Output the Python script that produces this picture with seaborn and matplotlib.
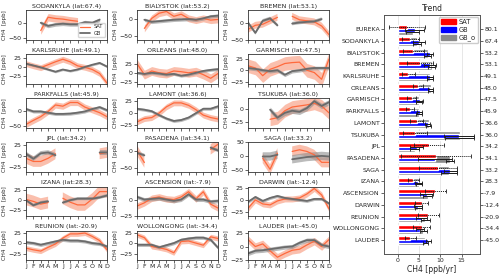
import numpy as np
import matplotlib
matplotlib.use("Agg")
import matplotlib.pyplot as plt
import seaborn as sns
from matplotlib.patches import Patch

sns.set_theme(style="ticks")
plt.rcParams["font.family"] = ["DejaVu Sans"]

nan = np.nan

# seasonal cycle panels
panel_names = ["SODANKYLA", "BIALYSTOK", "BREMEN", "KARLSRUHE", "ORLEANS", "GARMISCH",
               "PARKFALLS", "LAMONT", "TSUKUBA", "JPL", "PASADENA", "SAGA",
               "IZANA", "ASCENSION", "DARWIN", "REUNION", "WOLLONGONG", "LAUDER"]
panel_lats = [67.4, 53.2, 53.1, 49.1, 48.0, 47.5, 45.9, 36.6, 36.0, 34.2, 34.1, 33.2,
              28.3, -7.9, -12.4, -20.9, -34.4, -45.0]

sat_cycle = [
    [nan, nan, -25, 18, 14, 12, 8, 5, nan, nan, nan, nan],
    [nan, -27, 2, 17, 22, 8, 14, 2, -3, 2, -3, -1],
    [-20, -8, -5, 5, 15, nan, 18, 8, 5, 2, -10, -35],
    [10, 4, -1, 7, 15, 22, 15, 4, 0, -6, -17, -43],
    [25, -5, 5, 0, -2, 5, 3, 0, 3, -5, -15, -2],
    [10, 5, -12, 2, 8, 15, 17, 18, 0, -5, -20, 25],
    [-44, -31, -19, -2, 19, 15, 27, 27, 12, 3, -6, -19],
    [-18, -11, -9, 0, 13, 21, 21, 16, 7, -4, -9, -12],
    [nan, nan, nan, -19, -16, -3, 4, 6, 8, 11, 6, -7],
    [-5, -12, -12, -5, 5, nan, nan, nan, nan, nan, 5, 8],
    [2, -33, nan, nan, nan, nan, nan, nan, nan, nan, 5, 20],
    [nan, nan, -6, -46, 12, nan, 18, 24, 18, 6, -21, -21],
    [2, -3, -10, -6, nan, 5, -5, -12, -12, 3, 22, 22],
    [-10, -5, 2, 4, 1, 0, 4, 12, 1, 12, -7, -13],
    [-17, 0, -8, -10, -2, 2, 2, 4, 12, 23, 10, -18],
    [-12, -16, -19, -10, -2, 12, 22, 22, 24, 16, 6, -16],
    [20, 13, -8, -11, -15, -23, 4, 5, 0, -5, 15, 11],
    [13, 0, 5, -8, -20, -13, -7, -5, 3, 10, 0, 13],
]
gb_cycle = [
    [nan, nan, 0, -10, -5, -3, -5, -5, 2, 0, 10, nan],
    [nan, -2, -8, -6, -4, -2, -1, 0, -2, 2, 8, 10],
    [0, -30, 5, 12, -8, nan, -3, 0, 2, 3, 10, nan],
    [10, 5, 0, -6, -12, -6, -10, -6, 1, 7, 12, 2],
    [0, -3, 0, -2, -5, -3, -8, -5, 0, 5, 8, 10],
    [5, 3, 0, -2, 0, -10, -2, 0, 3, 5, 5, 5],
    [6, -2, -2, -6, -10, -10, -9, -6, -2, 6, 12, 2],
    [9, 7, 4, -4, -11, -16, -14, -9, 0, 9, 9, 14],
    [nan, nan, nan, -1, -16, -7, -3, -5, 2, 15, 6, 13],
    [5, -6, 6, 8, 2, nan, nan, nan, nan, nan, 8, 8],
    [-5, -12, nan, nan, nan, nan, nan, nan, nan, nan, 10, 2],
    [nan, nan, 0, 0, 6, nan, -10, -6, -2, 0, 2, 0],
    [0, -13, -6, -3, nan, -6, 0, 4, 4, 4, 7, 12],
    [4, 0, 1, 2, 0, -2, 0, 8, 0, 0, -3, -2],
    [-4, 6, -2, 4, 8, 4, 2, 0, -2, 2, 2, -7],
    [2, 0, -4, 0, 4, 8, 6, 6, 4, 0, -2, -8],
    [-4, -4, -4, -10, -5, 0, 8, 11, 13, 13, 8, -11],
    [-13, -8, -7, -5, -3, -1, 0, 7, 12, 12, 3, 0],
]
sat_band = [12, 10, 10, 8, 12, 15, 10, 6, 12, 12, 15, 18, 15, 5, 6, 6, 6, 7]
gb_band = [6, 5, 5, 3, 4, 4, 5, 3, 5, 5, 5, 15, 4, 3, 3, 4, 4, 4]

panel_ylims = [(-55, 40), (-60, 25), (-50, 35), (-45, 35), (-30, 50), (-30, 35),
               (-55, 40), (-30, 30), (-35, 20), (-35, 30), (-60, 25), (-55, 50),
               (-40, 35), (-25, 20), (-32, 27), (-40, 30), (-40, 30), (-25, 30)]
panel_yticks = [[-50, 0], [-50, 0], [-50, 0], [-25, 0, 25], [-25, 0, 25], [-25, 0, 25],
                [-50, 0], [-25, 0, 25], [-25, 0], [-25, 0, 25], [-50, 0], [-50, 0, 50],
                [-25, 0, 25], [-25, 0], [-25, 0, 25], [-25, 0, 25], [-25, 0, 25], [-25, 0, 25]]
month_labels = ["J", "F", "M", "A", "M", "J", "J", "A", "S", "O", "N", "D"]

# trend panel
trend_names = ["EUREKA", "SODANKYLA", "BIALYSTOK", "BREMEN", "KARLSRUHE", "ORLEANS",
               "GARMISCH", "PARKFALLS", "LAMONT", "TSUKUBA", "JPL", "PASADENA", "SAGA",
               "IZANA", "ASCENSION", "DARWIN", "REUNION", "WOLLONGONG", "LAUDER"]
trend_lats = [80.1, 67.4, 53.2, 53.1, 49.1, 48.0, 47.5, 45.9, 36.6, 36.0, 34.2, 34.1,
              33.2, 28.3, -7.9, -12.4, -20.9, -34.4, -45.0]
sat_trend = [2.1, 3.0, 3.7, 5.2, 2.5, 4.8, 3.3, 2.9, 4.5, 4.1, 7.3, 9.1, 9.5, 3.7, 8.8, 5.6, 7.2, 5.6, 3.0]
gb_trend = [4.0, 5.0, 7.6, 7.6, 7.6, 7.6, 5.2, 5.2, 7.0, 14.3, 4.5, 8.7, 12.3, 4.8, 6.8, 4.8, 5.6, 5.2, 7.2]
gbo_trend = [3.5, 4.5, 7.0, 8.0, 7.5, 7.8, 5.0, 5.0, 7.3, 14.5, 4.0, 12.3, 12.0, 5.0, 7.0, 4.8, 6.5, 6.0, 6.5]
sat_err = [4.2, 2.0, 2.5, 3.0, 1.5, 1.2, 1.0, 1.0, 1.5, 2.8, 3.5, 8.2, 4.5, 1.2, 2.5, 1.5, 2.5, 2.0, 1.3]
gb_err = [2.2, 1.5, 0.8, 1.5, 0.8, 0.6, 0.8, 0.6, 0.6, 3.5, 1.5, 4.0, 1.5, 0.8, 1.5, 1.0, 1.2, 1.0, 0.6]
gbo_err = [1.5, 1.0, 0.8, 0.8, 0.7, 0.6, 0.6, 0.6, 0.6, 3.5, 1.0, 1.0, 1.8, 0.8, 1.0, 0.8, 1.0, 0.8, 0.6]

sat_col = "#ff6a3d"
sat_fill = "#f9a48a"
gb_col = "#6b6b6b"
gb_fill = "#8e8e8e"

fig = plt.figure(figsize=(5, 2.75), dpi=100)
gs = fig.add_gridspec(6, 3, left=0.052, right=0.658, top=0.962, bottom=0.055,
                      wspace=0.37, hspace=0.5)
months = np.arange(1, 13)

for i, name in enumerate(panel_names):
    ax = fig.add_subplot(gs[i // 3, i % 3])
    sat = np.array(sat_cycle[i], dtype=float)
    gb = np.array(gb_cycle[i], dtype=float)
    ax.fill_between(months, sat - sat_band[i], sat + sat_band[i], color=sat_fill, alpha=0.7, lw=0)
    ax.plot(months, sat, color=sat_col, lw=0.9, label="SAT")
    ax.fill_between(months, gb - gb_band[i], gb + gb_band[i], color=gb_fill, alpha=0.6, lw=0)
    ax.plot(months, gb, color=gb_col, lw=1.3, label="GB")
    ax.set_xlim(1, 12)
    ax.set_ylim(*panel_ylims[i])
    ax.set_yticks(panel_yticks[i])
    ax.set_xticks(months)
    if i // 3 == 5:
        ax.set_xticklabels(month_labels)
    else:
        ax.set_xticklabels([])
    ax.set_title(f"{name} (lat:{panel_lats[i]})", fontsize=4.5, pad=2)
    ax.set_ylabel("CH4  [ppb]", fontsize=4, labelpad=1)
    ax.tick_params(labelsize=4.5, length=2, width=0.5, pad=1)
    for s in ax.spines.values():
        s.set_linewidth(0.6)
        s.set_color("#333333")
    if i == 0:
        ax.legend(loc="lower right", fontsize=3.6, frameon=True, handlelength=2.0,
                  borderpad=0.3, labelspacing=0.3)

# trend bars
tax = fig.add_axes([0.768, 0.076, 0.192, 0.869])
y = np.arange(len(trend_names))
tax.barh(y + 0.08, gbo_trend, height=0.75, color="#8a8a8a", zorder=2)
tax.barh(y + 0.1, gb_trend, height=0.35, color="#0000ff", zorder=3)
tax.barh(y - 0.15, sat_trend, height=0.35, color="#ff0000", zorder=4)
eb = tax.errorbar(sat_trend, y - 0.15, xerr=sat_err, fmt="none", ecolor="k",
                  elinewidth=0.7, capsize=1.5, capthick=0.6, zorder=5)
for lc in eb[2]:
    lc.set_linestyle((0, (1, 1)))
tax.errorbar(gb_trend, y + 0.1, xerr=gb_err, fmt="none", ecolor="k",
             elinewidth=0.7, capsize=1.5, capthick=0.6, zorder=5)
tax.errorbar(gbo_trend, y + 0.25, xerr=gbo_err, fmt="none", ecolor="k",
             elinewidth=0.7, capsize=1.5, capthick=0.6, zorder=5)
tax.set_xlim(-3.2, 19.3)
tax.set_ylim(len(trend_names) - 1 + 1.2, -1.2)
tax.set_yticks(y)
tax.set_yticklabels(trend_names)
tax.set_xticks([0, 5, 10, 15])
tax.grid(axis="x", color="#e3e3e3", lw=0.6, zorder=0)
tax.set_axisbelow(True)
tax.tick_params(labelsize=4.5, length=2, width=0.5, pad=1)
tax.set_xlabel("CH4 [ppb/yr]", fontsize=5.5, labelpad=1)
tax.set_title("Trend", fontsize=5.5, pad=3)
for s in tax.spines.values():
    s.set_linewidth(0.6)
    s.set_color("#555555")

tax2 = tax.twinx()
tax2.set_ylim(tax.get_ylim())
tax2.set_yticks(y)
tax2.set_yticklabels([f"{v:.1f}" for v in trend_lats])
tax2.tick_params(labelsize=4.5, length=2, width=0.5, pad=1)
for s in tax2.spines.values():
    s.set_linewidth(0.6)
    s.set_color("#555555")

handles = [Patch(color="#ff0000", label="SAT"), Patch(color="#0000ff", label="GB"),
           Patch(color="#8a8a8a", label="GB_o")]
tax.legend(handles=handles, loc="upper right", fontsize=4.8, handlelength=2.2,
           handleheight=0.8, borderpad=0.3, labelspacing=0.25, handletextpad=0.5,
           borderaxespad=0.3, framealpha=1)

fig.savefig("out.png", dpi=100)
